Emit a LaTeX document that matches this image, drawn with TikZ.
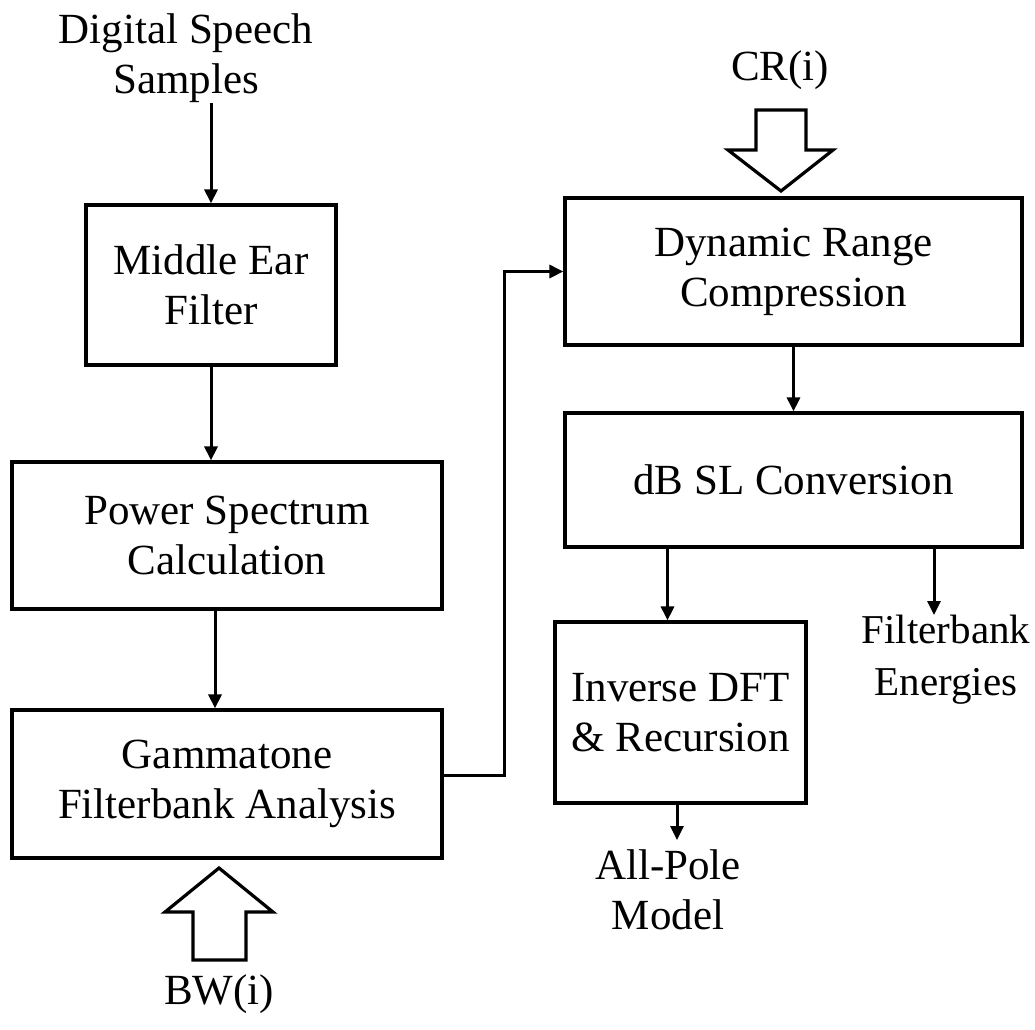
\documentclass[tikz,border=0pt]{standalone}
\usepackage{fontspec}
\setmainfont{Liberation Serif}
\usetikzlibrary{arrows.meta, positioning, calc}

\begin{document}
\begin{tikzpicture}[
    x=1pt, y=-1pt,
    block/.style={draw, line width=3.2pt, align=center, inner sep=0pt,
                  minimum width=#1, font=\fontsize{43}{50}\selectfont},
    label/.style={align=center, inner sep=0pt, font=\fontsize{43}{50}\selectfont},
    flow/.style={line width=3pt, -{Triangle[length=14pt, width=13pt]}},
    fat/.style={draw, line width=3.2pt, fill=white, line join=miter}
]
    \useasboundingbox (0,0) rectangle (1035,1029);

    % left column
    \node[label] (speech) at (186,58) {Digital Speech\\Samples};
    \node[block=250pt, minimum height=160pt] (ear) at (211,285) {Middle Ear\\Filter};
    \node[block=430pt, minimum height=147pt] (power) at (227,535.5) {Power Spectrum\\Calculation};
    \node[block=430pt, minimum height=148pt] (gamma) at (227,784) {Gammatone\\Filterbank Analysis};
    \node[label] (bw) at (219,994) {BW(i)};

    % right column
    \node[label] (cr) at (780,70) {CR(i)};
    \node[block=457pt, minimum height=147pt] (drc) at (793.5,271.5) {Dynamic Range\\Compression};
    \node[block=457pt, minimum height=134pt] (dbsl) at (793.5,480) {dB SL Conversion};
    \node[block=251pt, minimum height=181pt] (idft) at (680.5,712.5) {Inverse DFT\\\& Recursion};
    \node[label, font=\fontsize{41}{52}\selectfont] (energies) at (946,660) {Filterbank\\Energies};
    \node[label] (pole) at (668,890) {All-Pole\\Model};

    \coordinate (energiesIn) at (934,615);
    \coordinate (poleIn) at (677,840);

    \draw[flow] (speech.south -| ear.north) -- (ear.north);
    \draw[flow] (ear.south) -- (ear.south |- power.north);
    \draw[flow] ([xshift=-12pt]power.south) -- ([xshift=-12pt]power.south |- gamma.north);
    \draw[flow] ([yshift=9pt]gamma.east) -- ++(61,0) |- (drc.west);
    \draw[flow] (drc.south) -- (dbsl.north);
    \draw[flow] ([xshift=-13pt]idft.north |- dbsl.south) -- ([xshift=-13pt]idft.north);
    \draw[flow] (dbsl.south -| energiesIn) -- (energiesIn);
    \draw[flow] (idft.south -| poleIn) -- (poleIn);

    % block arrows
    \draw[fat] (756,110) -- (806,110) -- (806,150) -- (833,150) -- (781,191)
        -- (728,150) -- (756,150) -- cycle;
    \draw[fat] (193,960) -- (246,960) -- (246,912) -- (273,912) -- (219,868)
        -- (165,912) -- (193,912) -- cycle;
\end{tikzpicture}
\end{document}
